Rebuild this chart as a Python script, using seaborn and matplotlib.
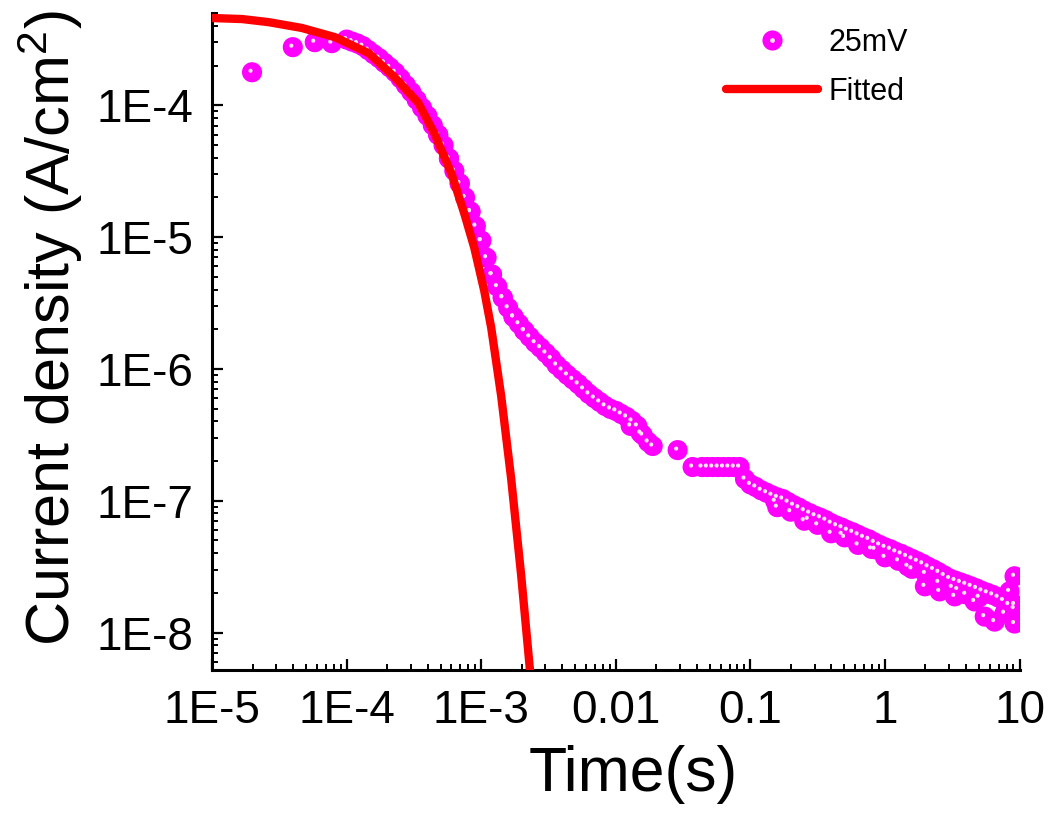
import numpy as np
import matplotlib
matplotlib.use("Agg")
import matplotlib.pyplot as plt
import seaborn as sns
from matplotlib.lines import Line2D
from matplotlib.ticker import LogLocator, NullFormatter
from matplotlib.transforms import offset_copy

# ---- data (25 mV transient) ----
early_t = [1.98e-5, 3.98e-5, 5.79e-5, 7.75e-5]
early_j = [1.78e-4, 2.76e-4, 3.01e-4, 2.96e-4]

decay_t = [1.0e-4, 1.096e-4, 1.202e-4, 1.318e-4, 1.445e-4, 1.585e-4, 1.738e-4, 1.905e-4,
           2.089e-4, 2.291e-4, 2.512e-4, 2.754e-4, 3.020e-4, 3.311e-4, 3.631e-4, 3.981e-4,
           4.365e-4, 4.786e-4, 5.248e-4, 5.754e-4, 6.310e-4, 6.918e-4, 7.586e-4, 8.318e-4,
           9.120e-4, 1.0e-3, 1.096e-3, 1.202e-3, 1.318e-3, 1.445e-3, 1.585e-3, 1.738e-3,
           1.905e-3, 2.089e-3, 2.291e-3, 2.512e-3, 2.754e-3, 3.020e-3, 3.311e-3, 3.631e-3,
           3.981e-3, 4.365e-3, 4.786e-3, 5.248e-3, 5.754e-3, 6.310e-3, 6.918e-3, 7.586e-3,
           8.318e-3, 9.120e-3, 1.0e-2, 1.096e-2, 1.202e-2, 1.318e-2, 1.445e-2, 1.585e-2,
           1.738e-2, 1.88e-2, 2.88e-2, 3.72e-2]
decay_j = [3.15e-4, 3.04e-4, 2.94e-4, 2.81e-4, 2.62e-4, 2.44e-4, 2.28e-4, 2.10e-4,
           1.94e-4, 1.78e-4, 1.60e-4, 1.42e-4, 1.26e-4, 1.10e-4, 9.57e-5, 8.32e-5,
           7.05e-5, 5.97e-5, 4.97e-5, 3.95e-5, 3.18e-5, 2.55e-5, 2.00e-5, 1.56e-5,
           1.21e-5, 9.40e-6, 6.98e-6, 5.19e-6, 4.21e-6, 3.47e-6, 2.91e-6, 2.48e-6,
           2.20e-6, 1.95e-6, 1.75e-6, 1.58e-6, 1.45e-6, 1.32e-6, 1.20e-6, 1.07e-6,
           9.82e-7, 9.00e-7, 8.32e-7, 7.69e-7, 7.05e-7, 6.46e-7, 6.01e-7, 5.61e-7,
           5.24e-7, 4.97e-7, 4.80e-7, 4.55e-7, 4.32e-7, 4.03e-7, 3.69e-7, 3.15e-7,
           2.79e-7, 2.60e-7, 2.42e-7, 1.80e-7]

# right edge of the steep part of the band
edge_t = [4.786e-4, 5.754e-4, 6.918e-4, 8.318e-4, 1.0e-3, 1.202e-3,
          1.445e-3, 1.738e-3, 2.089e-3, 1.53e-2, 1.29e-2]
edge_j = [5.97e-5, 3.95e-5, 2.55e-5, 1.56e-5, 9.40e-6, 5.19e-6,
          3.47e-6, 2.48e-6, 1.95e-6, 3.26e-7, 3.69e-7]

tail_t = [4.365e-2, 4.786e-2, 5.248e-2, 5.754e-2, 6.310e-2, 6.918e-2, 7.586e-2, 8.318e-2,
          9.120e-2, 0.1, 0.1096, 0.1202, 0.1318, 0.1445, 0.1585, 0.1738, 0.1905, 0.2089,
          0.2291, 0.2512, 0.2754, 0.3020, 0.3311, 0.3631, 0.3981, 0.4365, 0.4786, 0.5248,
          0.5754, 0.6310, 0.6918, 0.7586, 0.8318, 0.9120, 1.0, 1.096, 1.202, 1.318, 1.445,
          1.585, 1.738, 1.905, 2.089, 2.291, 2.512, 2.754, 3.020, 3.311, 3.631, 3.981,
          4.365, 4.786, 5.248, 5.754, 6.310, 6.918, 7.586, 8.318, 9.120]
tail_j = [1.80e-7, 1.80e-7, 1.80e-7, 1.80e-7, 1.80e-7, 1.80e-7, 1.80e-7, 1.80e-7,
          1.46e-7, 1.33e-7, 1.27e-7, 1.20e-7, 1.15e-7, 1.10e-7, 1.06e-7, 1.03e-7,
          9.75e-8, 9.25e-8, 8.85e-8, 8.40e-8, 8.04e-8, 7.69e-8, 7.43e-8, 7.11e-8,
          6.75e-8, 6.46e-8, 6.24e-8, 5.97e-8, 5.76e-8, 5.51e-8, 5.27e-8, 5.09e-8,
          4.83e-8, 4.62e-8, 4.43e-8, 4.28e-8, 4.09e-8, 3.95e-8, 3.78e-8, 3.62e-8,
          3.47e-8, 3.32e-8, 3.15e-8, 3.01e-8, 2.86e-8, 2.71e-8, 2.57e-8, 2.48e-8,
          2.40e-8, 2.32e-8, 2.24e-8, 2.16e-8, 2.07e-8, 2.00e-8, 1.93e-8, 1.85e-8,
          1.75e-8, 1.63e-8, 1.52e-8]

# lower edge of the tail band and scattered points near 10 s
scatter_t = [0.153, 0.1585, 0.1995, 0.2512, 0.269, 0.3162, 0.3981, 0.48, 0.5012, 0.6310,
             0.7943, 0.843, 1.0, 1.259, 1.48, 1.585, 1.98, 1.995, 2.512, 2.55, 3.162,
             3.30, 3.47, 3.981, 4.64, 5.012, 5.51, 6.53, 7.74, 8.43, 9.18, 9.18, 9.18]
scatter_j = [9.9e-8, 8.93e-8, 8.25e-8, 7.05e-8, 7.23e-8, 6.56e-8, 5.66e-8, 5.56e-8,
             5.27e-8, 4.62e-8, 4.31e-8, 4.28e-8, 3.72e-8, 3.50e-8, 3.18e-8, 3.04e-8,
             2.24e-8, 2.81e-8, 2.40e-8, 2.05e-8, 2.20e-8, 1.88e-8, 2.12e-8, 1.95e-8,
             1.72e-8, 1.85e-8, 1.32e-8, 1.21e-8, 1.40e-8, 2.05e-8, 2.67e-8, 1.63e-8,
             1.17e-8]

fit_t = [1.0e-5, 1.67e-5, 2.64e-5, 4.64e-5, 8.15e-5, 1.46e-4, 2.27e-4, 3.41e-4,
         4.48e-4, 6.0e-4, 7.48e-4, 8.87e-4, 1.052e-3, 1.186e-3, 1.406e-3, 1.667e-3,
         1.977e-3, 2.307e-3, 2.47e-3]
fit_j = [4.59e-4, 4.51e-4, 4.27e-4, 3.86e-4, 3.29e-4, 2.48e-4, 1.63e-4, 1.04e-4,
         6.12e-5, 3.04e-5, 1.51e-5, 8.32e-6, 3.92e-6, 2.05e-6, 6.24e-7, 1.48e-7,
         2.76e-8, 5.05e-9, 2.26e-9]

x_ticks = [1e-5, 1e-4, 1e-3, 1e-2, 1e-1, 1, 10]
x_tick_labels = ["1E-5", "1E-4", "1E-3", "0.01", "0.1", "1", "10"]
y_ticks = [1e-8, 1e-7, 1e-6, 1e-5, 1e-4]
y_tick_labels = ["1E-8", "1E-7", "1E-6", "1E-5", "1E-4"]
series_label = "25mV"
fit_label = "Fitted"

meas_t = early_t + decay_t + edge_t + tail_t + scatter_t
meas_j = early_j + decay_j + edge_j + tail_j + scatter_j

# ---- style ----
sns.set_theme(style="ticks")
plt.rcParams["font.family"] = ["Liberation Sans", "DejaVu Sans"]
plt.rcParams["mathtext.fontset"] = "custom"
plt.rcParams["mathtext.rm"] = "Liberation Sans"
plt.rcParams["mathtext.it"] = "Liberation Sans:italic"
plt.rcParams["mathtext.bf"] = "Liberation Sans:bold"
for key in ["text.color", "axes.labelcolor", "xtick.color", "ytick.color",
            "axes.edgecolor"]:
    plt.rcParams[key] = "black"

MAG = "#FF00FF"
HL = "#FFE0F4"

fig = plt.figure(figsize=(10.5, 8.21), dpi=100)
ax = fig.add_axes([0.202, 0.184, 0.769, 0.800])

sns.scatterplot(x=meas_t, y=meas_j, s=210, color=MAG, edgecolor="none",
                linewidth=0, ax=ax, zorder=2, legend=False)
hl_tr = offset_copy(ax.transData, fig=fig, x=-1.5, y=1.5, units="dots")
sns.scatterplot(x=meas_t, y=meas_j, s=9, color=HL, edgecolor="none",
                linewidth=0, ax=ax, zorder=2.5, legend=False, transform=hl_tr)
sns.lineplot(x=fit_t, y=fit_j, color="#FF0000", linewidth=6, sort=False,
             estimator=None, ax=ax, zorder=3, legend=False)

ax.set_xscale("log")
ax.set_yscale("log")
ax.set_xlim(1e-5, 10)
ax.set_ylim(5.2e-9, 5.0e-4)

ax.set_xticks(x_ticks)
ax.set_xticklabels(x_tick_labels)
ax.set_yticks(y_ticks)
ax.set_yticklabels(y_tick_labels)
ax.xaxis.set_minor_locator(LogLocator(base=10, subs=np.arange(2, 10), numticks=100))
ax.yaxis.set_minor_locator(LogLocator(base=10, subs=np.arange(2, 10), numticks=100))
ax.xaxis.set_minor_formatter(NullFormatter())
ax.yaxis.set_minor_formatter(NullFormatter())

ax.tick_params(which="major", direction="in", length=8, width=1.6, labelsize=33,
               pad=13.5, colors="black")
ax.tick_params(which="minor", direction="in", length=4, width=1.4, colors="black")
ax.tick_params(top=False, right=False, which="both")

for side in ["top", "right"]:
    ax.spines[side].set_visible(False)
for side in ["left", "bottom"]:
    ax.spines[side].set_linewidth(2.2)
    ax.spines[side].set_color("black")

ax.set_xlabel("Time(s)", fontsize=45, color="black")
ax.set_ylabel(r"Current density (A/cm$^{\mathrm{2}}$)", fontsize=44, color="black")
ax.xaxis.set_label_coords(0.521, -0.114)
ax.yaxis.set_label_coords(-0.157, 0.52)

h_pt = Line2D([], [], linestyle="none", marker="o", markersize=14.5,
              markerfacecolor=MAG, markeredgecolor="none")
h_hl = Line2D([], [], linestyle="none", marker="o", markersize=3.5,
              markerfacecolor=HL, markeredgecolor="none")
h_ln = Line2D([], [], color="#FF0000", linewidth=6)
leg = ax.legend([(h_pt, h_hl), h_ln], [series_label, fit_label],
                loc="upper left", bbox_to_anchor=(0.637, 0.978),
                frameon=False, fontsize=22, handlelength=3.0,
                handletextpad=0.35, labelspacing=0.62, borderpad=0,
                borderaxespad=0)
for txt in leg.get_texts():
    txt.set_color("black")

fig.savefig("out.png", dpi=100, facecolor="white")
